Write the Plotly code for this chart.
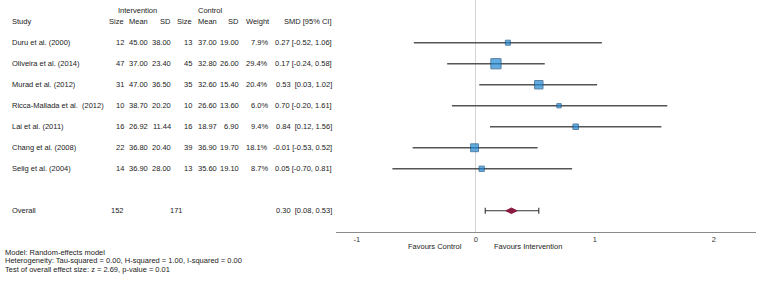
import math
import plotly.graph_objects as go

# ---------------- data ----------------
studies = ["Duru et al. (2000)", "Oliveira et al. (2014)", "Murad et al. (2012)",
           "Ricca-Mallada et al.  (2012)", "Lai et al. (2011)", "Chang et al. (2008)",
           "Selig et al. (2004)"]
int_n = [12, 47, 31, 10, 16, 22, 14]
int_mean = [45.00, 37.00, 47.00, 38.70, 26.92, 36.80, 36.90]
int_sd = [38.00, 23.40, 36.50, 20.20, 11.44, 20.40, 28.00]
ctl_n = [13, 45, 35, 10, 16, 39, 13]
ctl_mean = [37.00, 32.80, 32.60, 26.60, 18.97, 36.90, 35.60]
ctl_sd = [19.00, 26.00, 15.40, 13.60, 6.90, 19.70, 19.10]
weight = [7.9, 29.4, 20.4, 6.0, 9.4, 18.1, 8.7]
smd = [0.27, 0.17, 0.53, 0.70, 0.84, -0.01, 0.05]
ci_lo = [-0.52, -0.24, 0.03, -0.20, 0.12, -0.53, -0.70]
ci_hi = [1.06, 0.58, 1.02, 1.61, 1.56, 0.52, 0.81]

overall_label = "Overall"
overall_int_n = 152
overall_ctl_n = 171
overall_smd = 0.30
overall_lo = 0.08
overall_hi = 0.53

x_ticks = [-1, 0, 1, 2]
footer_lines = [
    "Model: Random-effects model",
    "Heterogeneity: Tau-squared = 0.00, H-squared = 1.00, I-squared = 0.00",
    "Test of overall effect size: z = 2.69, p-value = 0.01",
]

# ---------------- layout helpers ----------------
W, H = 763, 281
FONT = "Liberation Sans, Arial, sans-serif"
FS = 7.5
TXT = "#222222"


def px(x):
    return x / W


def py(y):
    return 1 - y / H


def sp(s):
    return s.replace("  ", " \u00a0")


def fmt_ci(m, lo, hi):
    gap = " \u00a0" if lo >= 0 else " "
    return f"{m:.2f}{gap}[{lo:.2f}, {hi:.2f}]"


rows = list(range(len(studies)))
overall_row = len(studies) + 1

fig = go.Figure()

# CI lines for studies
for i in rows:
    fig.add_trace(go.Scatter(
        x=[ci_lo[i], ci_hi[i]], y=[i, i], mode="lines",
        line=dict(color="#555555", width=1.6), hoverinfo="skip", showlegend=False))

# study squares
fig.add_trace(go.Scatter(
    x=smd, y=rows, mode="markers",
    marker=dict(symbol="square", size=[2 * math.sqrt(w) - 0.6 for w in weight],
                color="#2189d6", line=dict(color="#15507f", width=1)),
    showlegend=False))

# overall CI with caps + diamond
fig.add_trace(go.Scatter(
    x=[overall_smd], y=[overall_row], mode="markers",
    marker=dict(symbol="diamond-wide", size=8, color="#8c1b40",
                line=dict(color="#8c1b40", width=1)),
    error_x=dict(type="data", symmetric=False,
                 array=[overall_hi - overall_smd], arrayminus=[overall_smd - overall_lo],
                 color="#333333", thickness=1.1, width=3),
    showlegend=False))

fig.update_layout(
    width=W, height=H, autosize=False,
    margin=dict(l=0, r=0, t=0, b=0),
    paper_bgcolor="white", plot_bgcolor="white",
    font=dict(family=FONT, size=FS, color=TXT),
    xaxis=dict(domain=[px(336), px(756)], range=[-1.174, 2.355],
               tickvals=x_ticks, ticktext=[str(t) for t in x_ticks],
               ticks="", showgrid=False, zeroline=True, zerolinecolor="#d4d4d4",
               zerolinewidth=1, showline=True, linecolor="#8a8a8a", linewidth=1,
               tickfont=dict(size=FS, color="#333333"), fixedrange=True),
    yaxis=dict(domain=[py(232), 1], range=[9.01, -2.033], visible=False,
               showgrid=False, zeroline=False, fixedrange=True),
)

ann = []


def add(text, x, y, anchor="left", yref="y"):
    ann.append(dict(text=text, x=px(x), y=y, xref="paper", yref=yref,
                    xanchor=anchor, yanchor="middle", showarrow=False,
                    font=dict(family=FONT, size=FS, color=TXT), borderpad=0))


# group headers
add("Intervention", 137, -1.53, "center")
add("Control", 210, -1.53, "center")
# column headers
hdr_y = -1
add("Study", 11, hdr_y)
cols = [("Size", 125), ("Mean", 149), ("SD", 172), ("Size", 193),
        ("Mean", 218), ("SD", 240), ("Weight", 271), ("SMD [95% CI]", 333)]
for t, x in cols:
    add(t, x, hdr_y, "right")

for i in rows:
    add(sp(studies[i]), 11, i)
    add(f"{int_n[i]}", 125, i, "right")
    add(f"{int_mean[i]:.2f}", 149, i, "right")
    add(f"{int_sd[i]:.2f}", 172, i, "right")
    add(f"{ctl_n[i]}", 193, i, "right")
    add(f"{ctl_mean[i]:.2f}", 218, i, "right")
    add(f"{ctl_sd[i]:.2f}", 240, i, "right")
    add(f"{weight[i]:.1f}%", 269, i, "right")
    add(fmt_ci(smd[i], ci_lo[i], ci_hi[i]), 333, i, "right")

add(overall_label, 11, overall_row)
add(f"{overall_int_n}", 110, overall_row)
add(f"{overall_ctl_n}", 169, overall_row)
add(fmt_ci(overall_smd, overall_lo, overall_hi), 333, overall_row, "right")

# favours labels
add("Favours Control", 463, py(246), "right", "paper")
add("Favours Intervention", 493, py(246), "left", "paper")

for k, line in enumerate(footer_lines):
    add(line, 4, py([252, 260.5, 269][k]), "left", "paper")

fig.update_layout(annotations=ann)
fig.write_html(
    "out.html",
    config={"displayModeBar": False},
    post_script="document.body.style.margin='0';document.body.style.padding='0';",
)
